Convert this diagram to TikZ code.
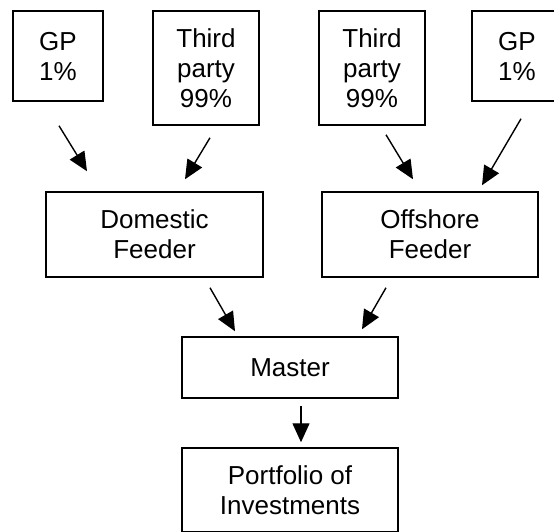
\documentclass[tikz,border=0pt]{standalone}
\usepackage{fontspec}
\setmainfont{Liberation Sans}
\usetikzlibrary{arrows.meta}
\begin{document}
\begin{tikzpicture}[x=1pt,y=-1pt,
  box/.style={draw=black,line width=1.5pt,rectangle,align=center,inner sep=0pt,
    font=\fontsize{26}{30}\selectfont},
  arr/.style={draw=black,line width=1.4pt,-{Triangle[length=19pt,width=17pt]}}]
\useasboundingbox (0,0) rectangle (554,531);
\node[box,minimum width=90pt,minimum height=90pt] (gpL) at (58,56) {GP\\1\%};
\node[box,minimum width=106pt,minimum height=114pt] (tpL) at (206,68) {Third\\party\\99\%};
\node[box,minimum width=106pt,minimum height=114pt] (tpR) at (372,68) {Third\\party\\99\%};
\node[box,minimum width=90pt,minimum height=90pt] (gpR) at (517,56) {GP\\1\%};
\node[box,minimum width=217pt,minimum height=85pt] (dom) at (154.5,234.5) {Domestic\\Feeder};
\node[box,minimum width=216pt,minimum height=85pt] (off) at (430,234.5) {Offshore\\Feeder};
\node[box,minimum width=216pt,minimum height=61pt] (master) at (290,367.5) {Master};
\node[box,minimum width=216pt,minimum height=84pt] (port) at (290,490) {Portfolio of\\Investments};
\draw[arr] ([xshift=1pt,yshift=-24pt]gpL.south) -- ([xshift=-67.5pt,yshift=20pt]dom.north);
\draw[arr] ([xshift=4pt,yshift=-12pt]tpL.south) -- ([xshift=30.5pt,yshift=12pt]dom.north);
\draw[arr] ([xshift=14pt,yshift=-9pt]tpR.south) -- ([xshift=-17pt,yshift=12pt]off.north);
\draw[arr] ([xshift=4pt,yshift=-17pt]gpR.south) -- ([xshift=52pt,yshift=6pt]off.north);
\draw[arr] ([xshift=55.5pt,yshift=-10pt]dom.south) -- ([xshift=-55pt,yshift=5pt]master.north);
\draw[arr] ([xshift=-44pt,yshift=-10pt]off.south) -- ([xshift=72pt,yshift=7pt]master.north);
\draw[arr] ([xshift=11pt,yshift=-7pt]master.south) -- ([xshift=11pt,yshift=5pt]port.north);
\end{tikzpicture}
\end{document}
